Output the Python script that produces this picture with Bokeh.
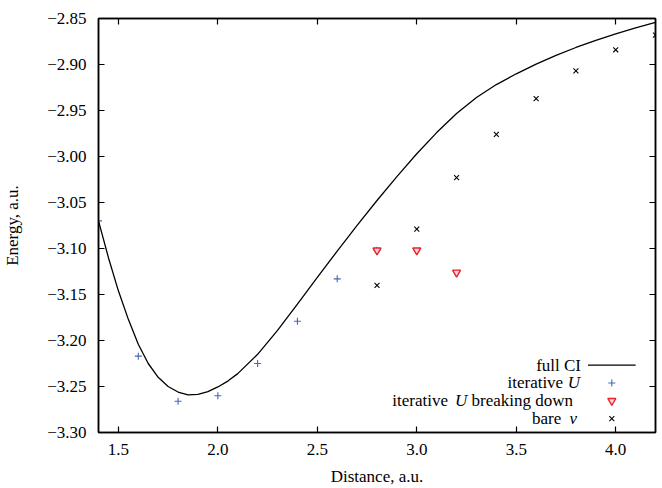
from bokeh.plotting import figure
from bokeh.models import (Range1d, LinearAxis, FixedTicker, CustomJSTickFormatter, Label)
from bokeh.embed import file_html
from bokeh.resources import INLINE

# ---------------- data ----------------
ci_x = [1.40, 1.45, 1.50, 1.55, 1.60, 1.65, 1.70, 1.75, 1.80, 1.85, 1.90, 1.95, 2.00,
        2.05, 2.10, 2.20, 2.30, 2.40, 2.50, 2.60, 2.70, 2.80, 2.90, 3.00, 3.10, 3.20,
        3.30, 3.40, 3.50, 3.60, 3.70, 3.80, 3.90, 4.00, 4.10, 4.20]
ci_y = [-3.0700, -3.1100, -3.1460, -3.1770, -3.2040, -3.2250, -3.2400, -3.2500, -3.2560,
        -3.2590, -3.2585, -3.2555, -3.2505, -3.2441, -3.2360, -3.2150, -3.1890, -3.1605,
        -3.1315, -3.1028, -3.0748, -3.0478, -3.0218, -2.9970, -2.9740, -2.9533, -2.9358,
        -2.9218, -2.9101, -2.8996, -2.8901, -2.8815, -2.8737, -2.8667, -2.8602, -2.8542]

iterU_x = [1.4, 1.6, 1.8, 2.0, 2.2, 2.4, 2.6, 2.8]
iterU_y = [-3.070, -3.217, -3.266, -3.260, -3.225, -3.179, -3.133, -3.102]

brk_x = [2.8, 3.0, 3.2]
brk_y = [-3.102, -3.102, -3.126]

bare_x = [2.8, 3.0, 3.2, 3.4, 3.6, 3.8, 4.0, 4.2]
bare_y = [-3.140, -3.079, -3.023, -2.976, -2.937, -2.907, -2.884, -2.868]

x_ticks = [1.5, 2.0, 2.5, 3.0, 3.5, 4.0]
y_ticks = [-3.30, -3.25, -3.20, -3.15, -3.10, -3.05, -3.00, -2.95, -2.90, -2.85]

X0, X1 = 1.4, 4.2
Y0, Y1 = -3.30, -2.85

# ---------------- layout ----------------
W, H = 662, 488
FL, FR, FT, FB = 94, 655, 18, 436
FONT = "Liberation Serif"
FS = "17px"
BLUE = "#4565b5"
RED = "#e8202a"

p = figure(width=W, height=H, output_backend="svg", toolbar_location=None,
           x_range=Range1d(X0, X1), y_range=Range1d(Y0, Y1),
           min_border_left=FL, min_border_right=W - FR,
           min_border_top=FT, min_border_bottom=H - FB)
p.grid.visible = False
p.outline_line_color = "black"
p.outline_line_width = 1.5
p.background_fill_color = "white"
p.border_fill_color = "white"

xfmt = CustomJSTickFormatter(code="return tick.toFixed(1);")
yfmt = CustomJSTickFormatter(code="return tick.toFixed(2).replace('-', '\u2212');")
blank = CustomJSTickFormatter(code="return '';")

def style_axis(ax, labels=True):
    ax.axis_line_color = "black"
    ax.axis_line_width = 1.5
    ax.major_tick_in = 6
    ax.major_tick_out = 0
    ax.major_tick_line_color = "black"
    ax.major_tick_line_width = 1.2
    ax.minor_tick_line_color = None
    ax.major_label_text_font = FONT
    ax.major_label_text_font_size = FS
    ax.major_label_text_color = "black"
    ax.axis_label_text_font = FONT
    ax.axis_label_text_font_size = FS
    ax.axis_label_text_font_style = "normal"
    ax.axis_label_text_color = "black"
    if not labels:
        ax.major_label_text_font_size = "0px"
        ax.major_label_standoff = 0

xa = p.xaxis[0]
xa.ticker = FixedTicker(ticks=x_ticks)
xa.formatter = xfmt
xa.axis_label = "Distance, a.u."
style_axis(xa)
xa.major_label_standoff = 11
xa.axis_label_standoff = 9

ya = p.yaxis[0]
ya.ticker = FixedTicker(ticks=y_ticks)
ya.formatter = yfmt
ya.axis_label = "Energy, a.u."
style_axis(ya)
ya.major_label_standoff = 12
ya.axis_label_standoff = 22

top = LinearAxis(ticker=FixedTicker(ticks=x_ticks), formatter=blank)
style_axis(top, labels=False)
p.add_layout(top, "above")
right = LinearAxis(ticker=FixedTicker(ticks=y_ticks), formatter=blank)
style_axis(right, labels=False)
p.add_layout(right, "right")

# ---------------- glyphs ----------------
p.line(ci_x, ci_y, line_color="black", line_width=1.3)
p.scatter(iterU_x, iterU_y, marker="cross", size=7, line_color=BLUE, line_width=1.1)
p.scatter(brk_x, brk_y, marker="inverted_triangle", size=8, line_color=RED,
          fill_color="#fbd6d8", line_width=1.4)
p.scatter(bare_x, bare_y, marker="x", size=7, line_color="black", line_width=1.1)

# ---------------- legend (text right-aligned, sample on the right) ----------------
def px2x(px):
    return X0 + (px - FL) / (FR - FL) * (X1 - X0)

def px2y(py):
    return Y1 - (py - FT) / (FB - FT) * (Y1 - Y0)

rows = [368, 386, 404, 422]
samp_x = px2x(611)

def lab(txt, px, row, italic=False, align="right"):
    p.add_layout(Label(x=px2x(px), y=px2y(row), text=txt, text_align=align,
                       text_baseline="middle", text_font=FONT, text_font_size=FS,
                       text_font_style="italic" if italic else "normal",
                       text_color="black"))

lab("full CI", 580, rows[0])
lab("iterative", 562, rows[1])
lab("U", 579, rows[1], italic=True)
lab("iterative", 446, rows[2])
lab("U", 453, rows[2], italic=True, align="left")
lab("breaking down", 572, rows[2])
lab("bare", 560, rows[3])
lab("v", 576, rows[3], italic=True)

p.line([px2x(587), px2x(635)], [px2y(rows[0]), px2y(rows[0])],
       line_color="black", line_width=1.3)
p.scatter([samp_x], [px2y(rows[1])], marker="cross", size=7, line_color=BLUE, line_width=1.1)
p.scatter([samp_x], [px2y(rows[2])], marker="inverted_triangle", size=8, line_color=RED,
          fill_color="#fbd6d8", line_width=1.4)
p.scatter([samp_x], [px2y(rows[3])], marker="x", size=7, line_color="black", line_width=1.1)

open("out.html", "w").write(file_html(p, INLINE))
